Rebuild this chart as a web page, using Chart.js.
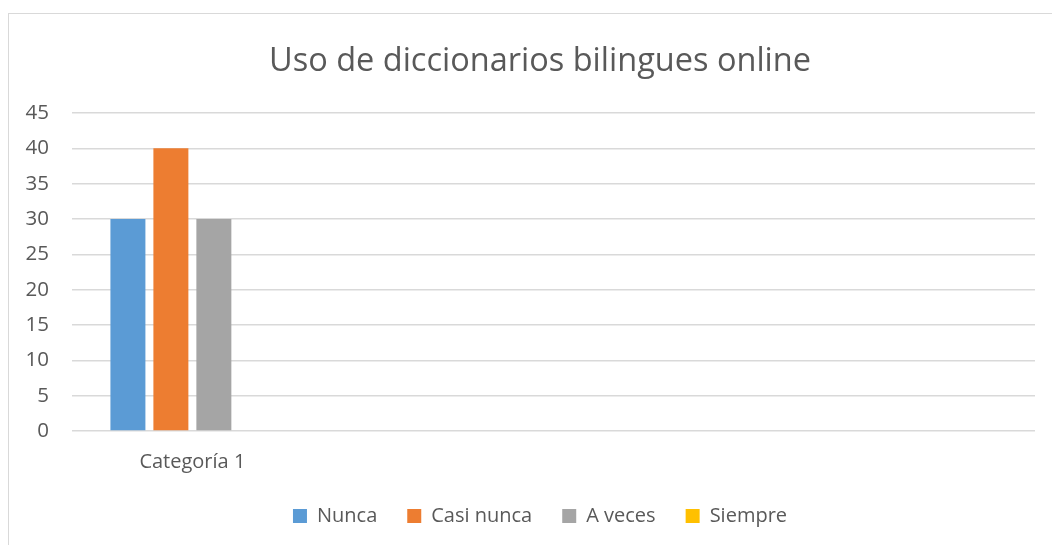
<!DOCTYPE html>
<html>
<head>
<meta charset="utf-8">
<script src="https://cdn.jsdelivr.net/npm/chart.js@4.4.1/dist/chart.umd.min.js"></script>
<style>
  html, body { margin: 0; padding: 0; background: #fff; overflow: hidden; }
  #wrap { position: relative; width: 1052px; height: 545px; overflow: hidden; }
  #frame { position: absolute; left: 8px; top: 13px; width: 1100px; height: 600px; border: 1.5px solid #d9d9d9; box-sizing: border-box; }
  #chart { position: absolute; left: 0; top: 0; }
</style>
</head>
<body>
<div id="wrap">
  <div id="frame"></div>
  <canvas id="chart" width="1080" height="545"></canvas>
</div>
<script>
  // datos
  const categorias = ["Categoría 1", "", "", ""];
  const nunca = [30, null, null, null];
  const casiNunca = [40, null, null, null];
  const aVeces = [30, null, null, null];
  const siempre = [0, null, null, null];

  const palette = {
    nunca: "#5b9bd5",
    casiNunca: "#ed7d31",
    aVeces: "#a5a5a5",
    siempre: "#ffc000",
    grid: "#d9d9d9",
    text: "#595959",
  };

  Chart.defaults.color = palette.text;
  Chart.defaults.font.family = "'Open Sans', 'Noto Sans', sans-serif";
  Chart.defaults.font.size = 20;

  const barOpts = { categoryPercentage: 0.714, barPercentage: 0.814, borderWidth: 0 };

  new Chart(document.getElementById("chart"), {
    type: "bar",
    data: {
      labels: categorias,
      datasets: [
        { label: "Nunca", data: nunca, backgroundColor: palette.nunca, ...barOpts },
        { label: "Casi nunca", data: casiNunca, backgroundColor: palette.casiNunca, ...barOpts },
        { label: "A veces", data: aVeces, backgroundColor: palette.aVeces, ...barOpts },
        { label: "Siempre", data: siempre, backgroundColor: palette.siempre, ...barOpts },
      ],
    },
    options: {
      responsive: false,
      animation: false,
      layout: { padding: { left: 0, right: 0, top: 0, bottom: 9 } },
      plugins: {
        title: {
          display: true,
          text: "Uso de diccionarios bilingues online",
          font: { size: 32.5, weight: "normal" },
          color: palette.text,
          padding: { top: 42, bottom: 32 },
        },
        legend: {
          position: "bottom",
          labels: { boxWidth: 14, boxHeight: 14, padding: 30, color: palette.text, font: { size: 20 } },
        },
        tooltip: { enabled: false },
      },
      scales: {
        x: {
          grid: { display: false, drawTicks: false },
          border: { display: false },
          ticks: { padding: 19, maxRotation: 0, autoSkip: false },
          afterFit: (s) => { s.height -= 17; },
        },
        y: {
          min: 0,
          max: 45,
          grid: { color: palette.grid, lineWidth: 1.5, drawTicks: false },
          border: { display: false },
          ticks: { stepSize: 5, padding: 23, font: { size: 20.5 } },
          afterFit: (s) => { s.width = 72; },
        },
        // eje vacío a la derecha, solo para reservar el margen
        derecha: {
          type: "linear",
          position: "right",
          display: true,
          grid: { display: false, drawTicks: false },
          border: { display: false },
          ticks: { display: false },
          afterFit: (s) => { s.width = 45; },
        },
      },
    },
  });
</script>
</body>
</html>
